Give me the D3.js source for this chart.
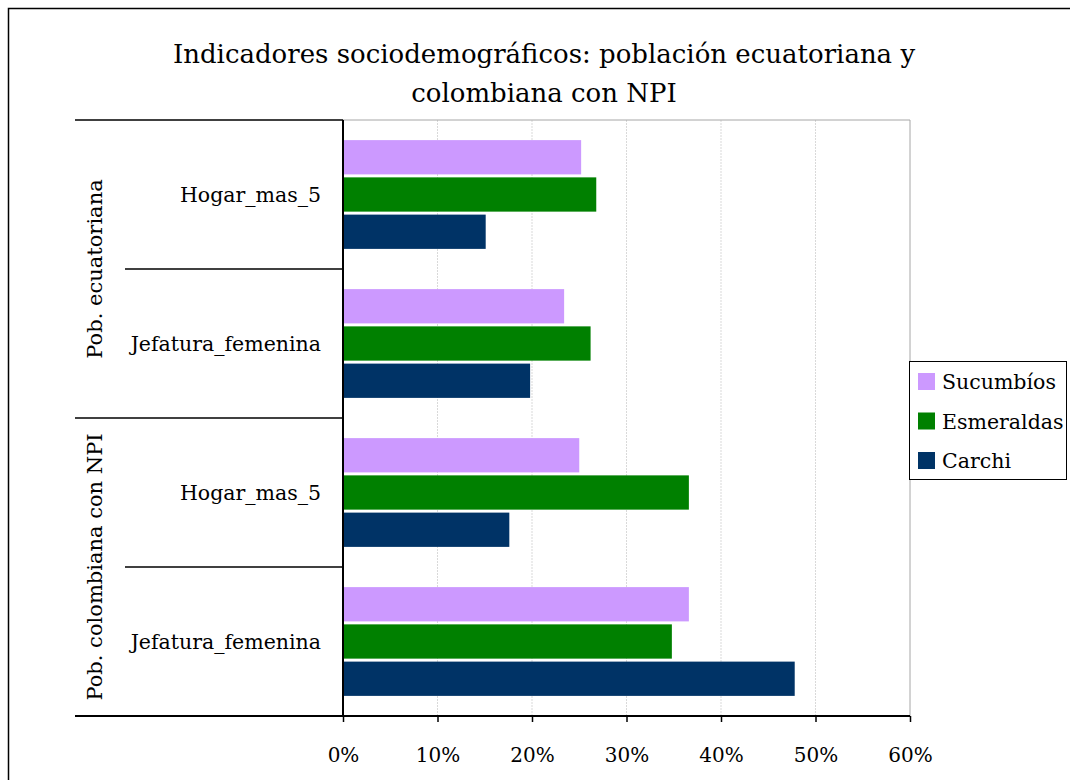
<!DOCTYPE html>
<html>
<head>
<meta charset="utf-8">
<script src="https://cdn.jsdelivr.net/npm/d3@7"></script>
<style>
  body { margin: 0; background: #fff; }
  svg text { font-family: "DejaVu Serif", "Liberation Serif", serif; fill: #000; }
</style>
</head>
<body>
<svg id="chart" width="1070" height="780"></svg>
<script>
// data
const groups = ["Pob. ecuatoriana", "Pob. colombiana con NPI"];
const categories = [
  { group: "Pob. ecuatoriana", label: "Hogar_mas_5" },
  { group: "Pob. ecuatoriana", label: "Jefatura_femenina" },
  { group: "Pob. colombiana con NPI", label: "Hogar_mas_5" },
  { group: "Pob. colombiana con NPI", label: "Jefatura_femenina" }
];
const seriesNames = ["Sucumbíos", "Esmeraldas", "Carchi"];
const seriesColors = ["#cc99ff", "#008000", "#003366"];
const sucumbios = [0.252, 0.234, 0.250, 0.366];
const esmeraldas = [0.268, 0.262, 0.366, 0.348];
const carchi = [0.151, 0.198, 0.176, 0.478];
const xTicks = [0, 0.1, 0.2, 0.3, 0.4, 0.5, 0.6];

const values = [sucumbios, esmeraldas, carchi];

const svg = d3.select("#chart");

// outer frame
svg.append("rect")
  .attr("x", 8.5).attr("y", 8.5)
  .attr("width", 1070).attr("height", 790)
  .attr("fill", "none").attr("stroke", "#000").attr("stroke-width", 1.5);

// title
svg.append("text").attr("x", 544).attr("y", 63).attr("text-anchor", "middle")
  .style("font-size", "26px").text("Indicadores sociodemográficos: población ecuatoriana y");
svg.append("text").attr("x", 544).attr("y", 102).attr("text-anchor", "middle")
  .style("font-size", "26px").text("colombiana con NPI");

const plotLeft = 343, plotRight = 910, plotTop = 120, plotBottom = 716;

const x = d3.scaleLinear().domain([0, 0.6]).range([plotLeft, plotRight]);
const y = d3.scaleBand().domain(d3.range(categories.length)).range([plotTop, plotBottom])
  .paddingInner(0.27).paddingOuter(0.135);
const ySub = d3.scaleBand().domain(d3.range(seriesNames.length)).range([0, y.bandwidth()])
  .paddingInner(0.08);
const step = (plotBottom - plotTop) / categories.length;

// gridlines
svg.append("g").selectAll("line")
  .data(xTicks.slice(1, -1))
  .join("line")
  .attr("x1", d => x(d)).attr("x2", d => x(d))
  .attr("y1", plotTop).attr("y2", plotBottom)
  .attr("stroke", "#d9d9d9").attr("stroke-dasharray", "2,1");

// plot area border (top, right)
svg.append("path")
  .attr("d", `M${plotLeft},${plotTop}H${plotRight}V${plotBottom}`)
  .attr("fill", "none").attr("stroke", "#a6a6a6").attr("stroke-width", 1);

// bars
const bars = svg.append("g");
values.forEach((vals, s) => {
  bars.append("g").selectAll("rect")
    .data(vals)
    .join("rect")
    .attr("x", x(0))
    .attr("y", (d, i) => y(i) + ySub(s))
    .attr("width", d => x(d) - x(0))
    .attr("height", ySub.bandwidth())
    .attr("fill", seriesColors[s]);
});

// x axis
const xAxis = svg.append("g")
  .attr("transform", `translate(0,${plotBottom})`)
  .call(d3.axisBottom(x).tickValues(xTicks).tickFormat(d3.format(".0%")).tickSizeInner(6).tickSizeOuter(0).tickPadding(26));
xAxis.select(".domain").remove();
xAxis.selectAll("line").attr("stroke", "#000").attr("stroke-width", 1.5);
xAxis.selectAll("text").style("font-size", "20px")
  .style("font-family", "'DejaVu Serif', serif");

// axis lines
svg.append("line").attr("x1", 75).attr("x2", plotRight).attr("y1", plotBottom).attr("y2", plotBottom)
  .attr("stroke", "#000").attr("stroke-width", 2);
svg.append("line").attr("x1", plotLeft).attr("x2", plotLeft).attr("y1", plotTop).attr("y2", plotBottom)
  .attr("stroke", "#000").attr("stroke-width", 2);

// multi-level category axis lines
svg.append("line").attr("x1", 75).attr("x2", plotLeft).attr("y1", plotTop).attr("y2", plotTop)
  .attr("stroke", "#000").attr("stroke-width", 1.5);
d3.range(1, categories.length).forEach(i => {
  const yy = plotTop + step * i;
  const groupBreak = categories[i].group !== categories[i - 1].group;
  svg.append("line")
    .attr("x1", groupBreak ? 75 : 125).attr("x2", plotLeft)
    .attr("y1", yy).attr("y2", yy)
    .attr("stroke", "#000").attr("stroke-width", 1.5);
});

// category labels
svg.append("g").selectAll("text")
  .data(categories)
  .join("text")
  .attr("x", 321)
  .attr("y", (d, i) => plotTop + step * (i + 0.5) + 7)
  .attr("text-anchor", "end")
  .style("font-size", "20.5px")
  .text(d => d.label);

// group labels
groups.forEach(g => {
  const idx = categories.map((c, i) => c.group === g ? i : -1).filter(i => i >= 0);
  const cy = plotTop + step * (d3.min(idx) + d3.max(idx) + 1) / 2;
  svg.append("text")
    .attr("transform", `translate(102,${cy}) rotate(-90)`)
    .attr("text-anchor", "middle")
    .style("font-size", "21px")
    .text(g);
});

// legend
const legend = svg.append("g").attr("transform", "translate(909,361)");
legend.append("rect").attr("x", 0.5).attr("y", 0.5).attr("width", 157).attr("height", 118)
  .attr("fill", "#fff").attr("stroke", "#000").attr("stroke-width", 1);
seriesNames.forEach((name, i) => {
  legend.append("rect").attr("x", 9).attr("y", 12 + i * 39.5).attr("width", 17).attr("height", 17)
    .attr("fill", seriesColors[i]);
  legend.append("text").attr("x", 33).attr("y", 28 + i * 39.5)
    .style("font-size", "20.5px").text(name);
});
</script>
</body>
</html>
